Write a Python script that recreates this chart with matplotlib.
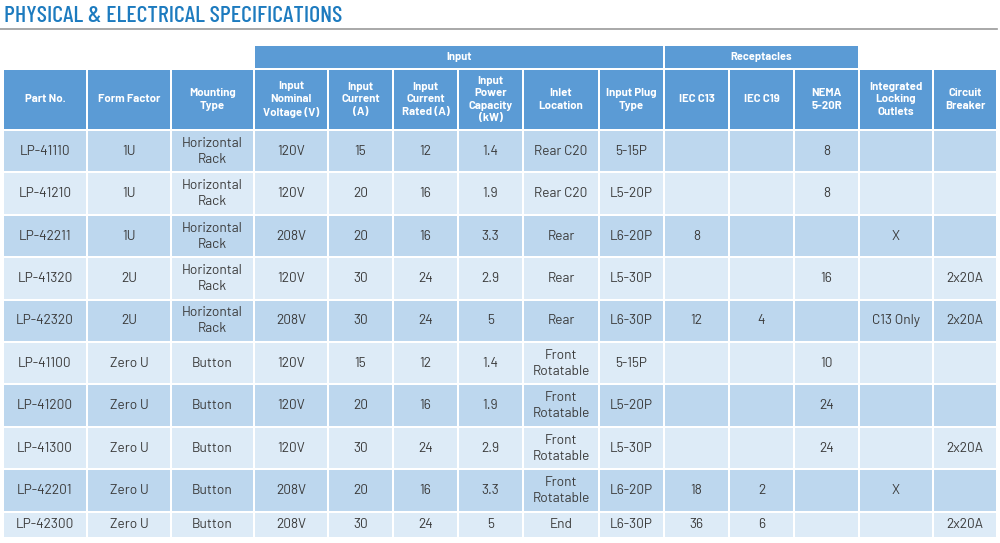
import matplotlib
matplotlib.use("Agg")
import matplotlib.pyplot as plt
from matplotlib.patches import Rectangle

plt.rcParams['font.family'] = ['Barlow', 'Roboto', 'DejaVu Sans']
title_family = ['Barlow Condensed', 'Roboto Condensed', 'DejaVu Sans']

title = 'PHYSICAL & ELECTRICAL SPECIFICATIONS'

groups = [('Input', 3, 8), ('Receptacles', 9, 11)]

headers = ['Part No.', 'Form Factor', 'Mounting\nType', 'Input\nNominal\nVoltage (V)',
           'Input\nCurrent\n(A)', 'Input\nCurrent\nRated (A)', 'Input\nPower\nCapacity\n(kW)',
           'Inlet\nLocation', 'Input Plug\nType', 'IEC C13', 'IEC C19', 'NEMA\n5-20R',
           'Integrated\nLocking\nOutlets', 'Circuit\nBreaker']

part_no = ['LP-41110', 'LP-41210', 'LP-42211', 'LP-41320', 'LP-42320',
           'LP-41100', 'LP-41200', 'LP-41300', 'LP-42201', 'LP-42300']
form_factor = ['1U', '1U', '1U', '2U', '2U', 'Zero U', 'Zero U', 'Zero U', 'Zero U', 'Zero U']
mounting = ['Horizontal\nRack'] * 5 + ['Button'] * 5
voltage = ['120V', '120V', '208V', '120V', '208V', '120V', '120V', '120V', '208V', '208V']
current = ['15', '20', '20', '30', '30', '15', '20', '30', '20', '30']
current_rated = ['12', '16', '16', '24', '24', '12', '16', '24', '16', '24']
power_kw = ['1.4', '1.9', '3.3', '2.9', '5', '1.4', '1.9', '2.9', '3.3', '5']
inlet = ['Rear C20', 'Rear C20', 'Rear', 'Rear', 'Rear',
         'Front\nRotatable', 'Front\nRotatable', 'Front\nRotatable', 'Front\nRotatable', 'End']
plug = ['5-15P', 'L5-20P', 'L6-20P', 'L5-30P', 'L6-30P',
        '5-15P', 'L5-20P', 'L5-30P', 'L6-20P', 'L6-30P']
iec_c13 = ['', '', '8', '', '12', '', '', '', '18', '36']
iec_c19 = ['', '', '', '', '4', '', '', '', '2', '6']
nema = ['8', '8', '', '16', '', '10', '24', '24', '', '']
locking = ['', '', 'X', '', 'C13 Only', '', '', '', 'X', '']
breaker = ['', '', '', '2x20A', '2x20A', '', '', '2x20A', '', '2x20A']

columns = [part_no, form_factor, mounting, voltage, current, current_rated, power_kw,
           inlet, plug, iec_c13, iec_c19, nema, locking, breaker]

# layout (pixels)
col_edges = [4, 88, 172, 255, 329, 394, 459, 524, 600, 665, 730, 795, 860, 934, 998]
gap = 2
group_top, group_bot = 46, 68
head_top, head_bot = 70, 129
row_top = 131
row_h = 42.4
last_row_h = 24

head_blue = '#5b9bd5'
row_colors = ['#bdd7ee', '#ddebf7']
text_dark = '#3a3a3a'

fig = plt.figure(figsize=(10, 5.43), dpi=100)
ax = fig.add_axes([0, 0, 1, 1])
ax.set_xlim(0, 1000)
ax.set_ylim(543, 0)
ax.axis('off')

ax.text(4, 16, title, fontsize=17.2, color='#1d7bbf', va='center', ha='left',
        family=title_family, fontweight='medium')
ax.plot([0, 997], [28.5, 28.5], color='#999999', lw=1.2)

for name, c0, c1 in groups:
    x0 = col_edges[c0]
    x1 = col_edges[c1 + 1] - gap
    ax.add_patch(Rectangle((x0, group_top), x1 - x0, group_bot - group_top, color=head_blue, lw=0))
    ax.text((x0 + x1) / 2, (group_top + group_bot) / 2, name, ha='center', va='center',
            color='white', fontsize=8, fontweight='bold')

for i, h in enumerate(headers):
    x0 = col_edges[i]
    x1 = col_edges[i + 1] - gap
    ax.add_patch(Rectangle((x0, head_top), x1 - x0, head_bot - head_top, color=head_blue, lw=0))
    ax.text((x0 + x1) / 2, (head_top + head_bot) / 2, h, ha='center', va='center',
            color='white', fontsize=8.2, fontweight='bold', linespacing=1.3)

n_rows = len(part_no)
for r in range(n_rows):
    y0 = row_top + r * row_h
    h = row_h - gap if r < n_rows - 1 else last_row_h
    for c, col in enumerate(columns):
        x0 = col_edges[c]
        x1 = col_edges[c + 1] - gap
        ax.add_patch(Rectangle((x0, y0), x1 - x0, h, color=row_colors[r % 2], lw=0))
        ax.text((x0 + x1) / 2, y0 + h / 2, col[r], ha='center', va='center',
                color=text_dark, fontsize=9.8, linespacing=1.3)

fig.savefig('out.png', dpi=100)
